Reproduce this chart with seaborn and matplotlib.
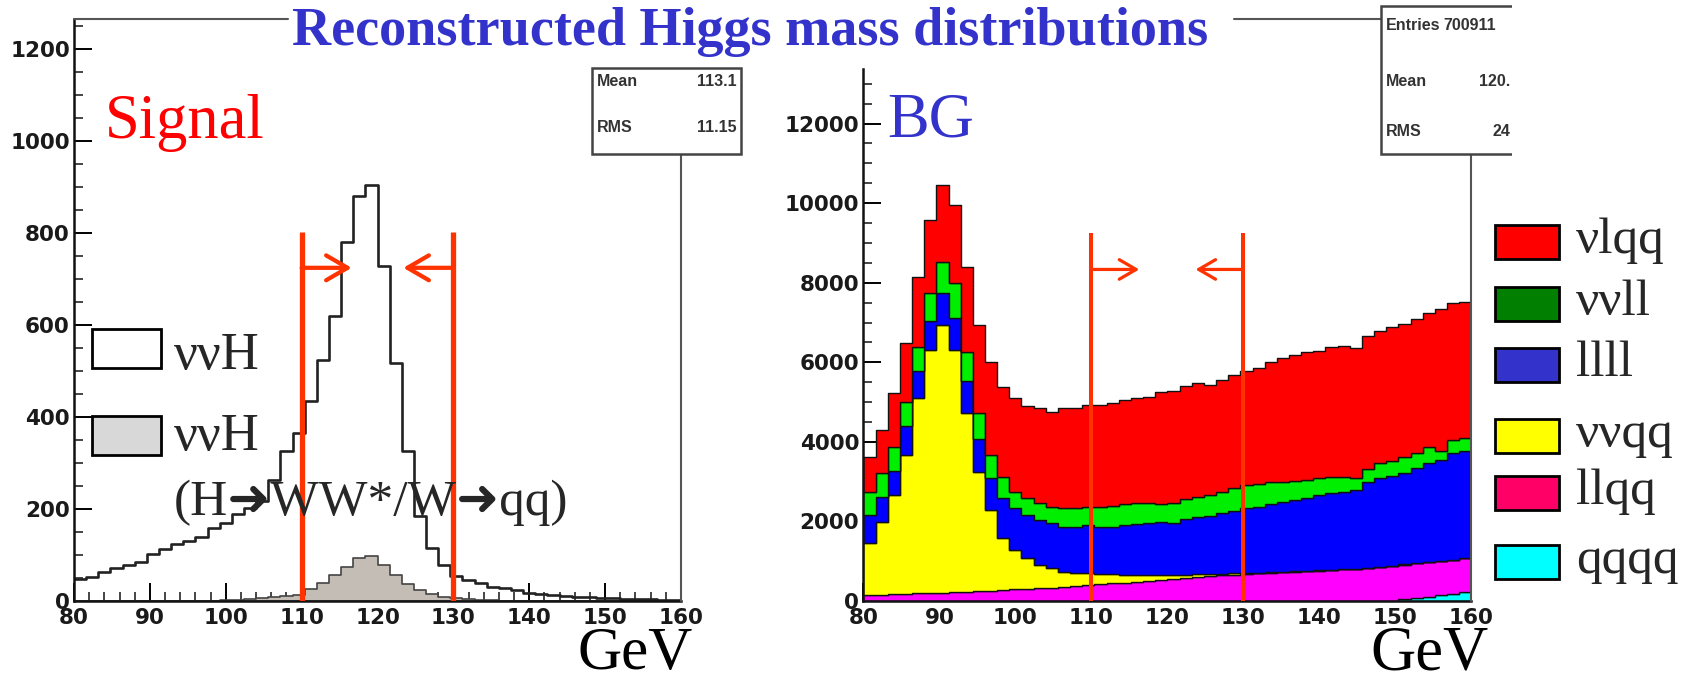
import numpy as np
import pandas as pd
import seaborn as sns
import matplotlib.pyplot as plt
from matplotlib.patches import Rectangle
from matplotlib.lines import Line2D
from matplotlib.ticker import MultipleLocator

# 50 bins of 1.6 GeV between 80 and 160 GeV
mass_lo, mass_hi, n_bins = 80, 160, 50
centers = mass_lo + (np.arange(n_bins) + 0.5) * (mass_hi - mass_lo) / n_bins

# signal histograms (entries per bin)
sig_nnh = [48, 53, 62, 71, 78, 85, 102, 112, 123, 131,
           140, 159, 170, 190, 201, 218, 263, 325, 364, 434,
           523, 620, 779, 881, 904, 727, 518, 325, 185, 115,
           78, 54, 46, 39, 31, 28, 24, 18, 15, 13,
           10, 9, 8, 7, 6, 5, 4, 4, 3, 3]
sig_ww = [0, 0, 0, 0, 0, 0, 0, 0, 1, 1,
          1, 1, 2, 2, 4, 6, 8, 10, 14, 27,
          40, 56, 74, 94, 97, 78, 56, 38, 23, 16,
          9, 6, 4, 3, 2, 1, 0, 0, 0, 0,
          0, 0, 0, 0, 0, 0, 0, 0, 0, 0]

# background components (entries per bin), top of stack first
bg_vlqq = [879, 1090, 1358, 1483, 1743, 1843, 1928, 1968, 2121, 2220,
           2347, 2263, 2347, 2329, 2388, 2388, 2514, 2514, 2556, 2555,
           2581, 2601, 2642, 2667, 2802, 2835, 2836, 2853, 2761, 2811,
           2852, 2852, 2913, 3040, 3104, 3178, 3220, 3210, 3251, 3302,
           3268, 3352, 3335, 3352, 3352, 3351, 3385, 3553, 3453, 3437]
bg_vvll = [587, 587, 587, 604, 604, 688, 795, 880, 730, 654,
           585, 543, 419, 420, 420, 419, 462, 462, 461, 520,
           520, 536, 520, 503, 444, 503, 503, 520, 528, 545,
           562, 587, 568, 541, 502, 470, 448, 419, 419, 360,
           293, 310, 377, 385, 386, 395, 403, 235, 317, 309]
bg_llll = [712, 628, 611, 737, 694, 737, 796, 797, 819, 814,
           797, 1006, 1048, 1089, 1131, 1131, 1131, 1172, 1215, 1172,
           1199, 1238, 1276, 1310, 1337, 1293, 1388, 1433, 1457, 1514,
           1571, 1625, 1657, 1714, 1763, 1795, 1827, 1895, 1922, 1949,
           1976, 2160, 2219, 2253, 2306, 2385, 2481, 2535, 2690, 2705]
bg_vvqq = [1300, 1834, 2495, 3490, 4906, 6110, 6727, 6086, 4483, 3003,
           2026, 1300, 992, 768, 585, 484, 381, 322, 304, 260,
           230, 205, 180, 160, 138, 115, 95, 75, 60, 45,
           35, 25, 15, 10, 5, 5, 5, 5, 5, 5,
           5, 5, 5, 5, 5, 5, 5, 5, 5, 5]
bg_llqq = [140, 150, 160, 170, 180, 190, 202, 214, 226, 238,
           252, 266, 280, 295, 310, 328, 346, 364, 382, 410,
           430, 450, 470, 490, 510, 535, 560, 585, 610, 635,
           655, 670, 690, 705, 720, 730, 740, 755, 770, 785,
           800, 825, 850, 875, 875, 875, 875, 865, 855, 840]
bg_qqqq = [10, 10, 10, 10, 10, 10, 10, 10, 10, 10,
           10, 10, 10, 10, 10, 10, 10, 10, 10, 10,
           10, 10, 10, 10, 10, 10, 10, 10, 10, 10,
           10, 10, 10, 10, 10, 10, 10, 10, 10, 10,
           10, 10, 10, 10, 40, 70, 100, 140, 180, 230]

bg_labels = ["νlqq", "ννll", "llll", "ννqq", "llqq", "qqqq"]
bg_fill = ["#ff0000", "#00ee00", "#0000ff", "#ffff00", "#ff00ff", "#00ffff"]
bg_legend = ["#ff0000", "#007f00", "#3333cc", "#ffff00", "#ff0066", "#00ffff"]

cut_window = [110, 130]
sig_stats = [("Mean", "113.1"), ("RMS", "11.15")]
bg_stats = [("Entries", "700911"), ("Mean", "120."), ("RMS", "24")]

W, H = 1693, 673
SERIF = ["Liberation Serif", "DejaVu Sans"]
ROOTFONT = ["DejaVu Sans"]
CUT_RED = "#ff3300"
BLUE_TXT = "#3333cc"


def fx(x):
    return x / W


def fy(y):
    return 1 - y / H


sns.set_style("ticks")
plt.rcParams["font.family"] = ROOTFONT

fig = plt.figure(figsize=(W / 100, H / 100), dpi=100)
ax1 = fig.add_axes([fx(74), fy(601), fx(681) - fx(74), fy(19.3) - fy(601)])
ax2 = fig.add_axes([fx(863.4), fy(601), fx(1471.4) - fx(863.4), fy(68.7) - fy(601)])

# --------------------------
# LEFT - signal
# --------------------------
sns.histplot(x=centers, weights=sig_ww, bins=n_bins, binrange=(mass_lo, mass_hi),
             element="step", fill=True, color="#c4bdb6", alpha=1,
             edgecolor="#444444", linewidth=1.2, ax=ax1)
sns.histplot(x=centers, weights=sig_nnh, bins=n_bins, binrange=(mass_lo, mass_hi),
             element="step", fill=False, color="#222222", linewidth=1.9, ax=ax1)
ax1.set_ylim(0, 1264)

# --------------------------
# RIGHT - background stack
# --------------------------
bg = pd.DataFrame({
    "mass": np.tile(centers, len(bg_labels)),
    "events": np.concatenate([bg_vlqq, bg_vvll, bg_llll, bg_vvqq, bg_llqq, bg_qqqq]),
    "process": np.repeat(bg_labels, n_bins),
})
sns.histplot(data=bg, x="mass", weights="events", hue="process", hue_order=bg_labels,
             palette=dict(zip(bg_labels, bg_fill)), multiple="stack", element="step",
             bins=n_bins, binrange=(mass_lo, mass_hi), alpha=1,
             edgecolor="#111111", linewidth=1.0, legend=False, ax=ax2)
ax2.set_ylim(0, 13380)

for ax, ytop, ymaj, ymin in [(ax1, 1264, 200, 50), (ax2, 13380, 2000, 500)]:
    ax.set_xlim(mass_lo, mass_hi)
    ax.set_xticks(np.arange(80, 161, 10))
    ax.set_yticks(np.arange(0, ytop, ymaj))
    ax.xaxis.set_minor_locator(MultipleLocator(2))
    ax.yaxis.set_minor_locator(MultipleLocator(ymin))
    ax.tick_params(which="major", direction="in", length=13, width=1.4, pad=3,
                   labelsize=15.5, colors="black")
    ax.tick_params(which="minor", direction="in", length=6.5, width=1.2)
    ax.tick_params(axis="x", pad=5)
    for lab in ax.get_xticklabels() + ax.get_yticklabels():
        lab.set_fontweight("bold")
        lab.set_color("#1a1a1a")
    ax.set_xlabel("")
    ax.set_ylabel("")
    for side in ["top", "right"]:
        ax.spines[side].set_visible(False)
    for side in ["left", "bottom"]:
        ax.spines[side].set_linewidth(1.8)
        ax.spines[side].set_color("#111111")
    ax.patch.set_alpha(0)

# cut window lines and arrows
for ax, top, arrow_y, lw, arrow_len, mscale in [(ax1, 802, 724, 3.8, 6.6, 28),
                                                (ax2, 9250, 8334, 2.9, 6.3, 22)]:
    ax.vlines(cut_window, 0, top, colors=CUT_RED, linewidth=lw, zorder=5)
    style = "->,head_length=0.55,head_width=0.32"
    ax.annotate("", xy=(cut_window[0] + arrow_len, arrow_y), xytext=(cut_window[0], arrow_y),
                arrowprops=dict(arrowstyle=style, color=CUT_RED, lw=lw * 0.8,
                                shrinkA=0, shrinkB=0, mutation_scale=mscale), zorder=5)
    ax.annotate("", xy=(cut_window[1] - arrow_len, arrow_y), xytext=(cut_window[1], arrow_y),
                arrowprops=dict(arrowstyle=style, color=CUT_RED, lw=lw * 0.8,
                                shrinkA=0, shrinkB=0, mutation_scale=mscale), zorder=5)

# frame pieces (right edges and top lines of the ROOT canvases)
frame = dict(transform=fig.transFigure, color="#555555", linewidth=1.5)
fig.lines.append(Line2D([fx(681), fx(681)], [fy(154), fy(601)], **frame))
fig.lines.append(Line2D([fx(1471.4), fx(1471.4)], [fy(154), fy(601)], **frame))
fig.lines.append(Line2D([fx(74), fx(288)], [fy(19.3), fy(19.3)], **frame))
fig.lines.append(Line2D([fx(1234), fx(1381)], [fy(19.3), fy(19.3)], **frame))

# stat boxes
for x0, x1, y0, y1 in [(592, 741, 68, 154), (1381, 1560, 6, 154)]:
    fig.patches.append(Rectangle((fx(x0), fy(y1)), fx(x1) - fx(x0), fy(y0) - fy(y1),
                                 transform=fig.transFigure, facecolor="white",
                                 edgecolor="#444444", linewidth=1.8, zorder=3))
stat_font = dict(family=["Liberation Sans"], fontsize=11.5, fontweight="bold",
                 color="#333333", va="center", zorder=4)
for (name, val), y in zip(sig_stats, [81, 128]):
    fig.text(fx(597), fy(y), name, **stat_font)
    fig.text(fx(737), fy(y), val, ha="right", **stat_font)
for (name, val), y in zip(bg_stats, [26, 81, 131]):
    fig.text(fx(1386), fy(y), name, **stat_font)
    if name == "Entries":
        fig.text(fx(1443), fy(y), val, **stat_font)
    else:
        fig.text(fx(1510), fy(y), val, ha="right", **stat_font)
# clip the right stat box like the original slide
fig.patches.append(Rectangle((fx(1512), fy(200)), fx(W) - fx(1512), fy(0) - fy(200),
                             transform=fig.transFigure, facecolor="white",
                             edgecolor="none", zorder=6))

# titles and labels
fig.text(fx(750), fy(45), "Reconstructed Higgs mass distributions", family=SERIF,
         fontsize=39, fontweight="bold", color=BLUE_TXT, ha="center", va="baseline")
fig.text(fx(105), fy(138), "Signal", family=SERIF, fontsize=45, color="#ff0000",
         va="baseline")
fig.text(fx(887), fy(136.5), "BG", family=SERIF, fontsize=45, color=BLUE_TXT,
         va="baseline")
fig.text(fx(578), fy(669), "GeV", family=SERIF, fontsize=44, color="black", va="baseline")
fig.text(fx(1370), fy(669), "GeV", family=SERIF, fontsize=45, color="black", va="baseline")

# left legend
for y0, face in [(329, "white"), (416, "#d8d8d8")]:
    fig.patches.append(Rectangle((fx(91.5), fy(y0 + 39)), fx(160.7) - fx(91.5),
                                 fy(y0) - fy(y0 + 39), transform=fig.transFigure,
                                 facecolor=face, edgecolor="black", linewidth=2, zorder=4))
fig.text(fx(174), fy(369), "ννH", family=SERIF, fontsize=38, va="baseline", zorder=4)
fig.text(fx(174), fy(450), "ννH", family=SERIF, fontsize=38, va="baseline", zorder=4)
fig.text(fx(174), fy(515), "(H➜WW*/W➜qq)", family=SERIF, fontsize=37, va="baseline",
         zorder=4)

# right legend
for label, col, yc in zip(bg_labels, bg_legend, [242, 304, 365, 436, 493, 562]):
    fig.patches.append(Rectangle((fx(1495), fy(yc + 17)), fx(1559) - fx(1495),
                                 fy(yc - 17) - fy(yc + 17), transform=fig.transFigure,
                                 facecolor=col, edgecolor="black", linewidth=2, zorder=7))
    fig.text(fx(1576), fy(yc + 11), label, family=SERIF, fontsize=37, va="baseline",
             zorder=7)

plt.savefig("out.png", dpi=100)
